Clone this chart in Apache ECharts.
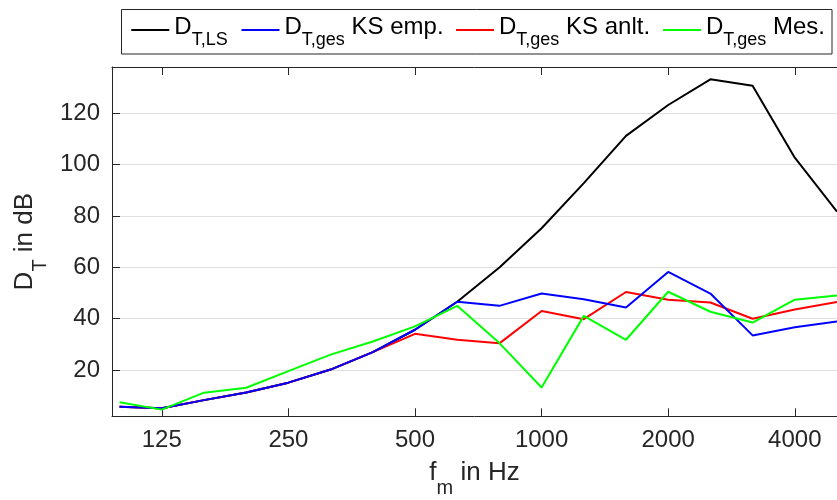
<!DOCTYPE html>
<html><head><meta charset="utf-8">
<script src="https://cdn.jsdelivr.net/npm/echarts@6/dist/echarts.min.js"></script>
<style>html,body{margin:0;padding:0;background:#fff}#c{width:837px;height:500px}</style>
</head><body><div id="c"></div>
<script>
// third-octave band centre frequencies (Hz)
const freqs = ['100','125','160','200','250','315','400','500','630','800','1000','1250','1600','2000','2500','3150','4000','5000'];
const xTickLabels = ['125','250','500','1000','2000','4000'];
const yTickLabels = [20, 40, 60, 80, 100, 120];

const dLS     = [5.7, 5.1, 8.3, 11.3, 15.1, 20.2, 27.0, 35.7, 46.6, 59.9, 75.2, 92.8, 111.2, 123.2, 133.2, 130.7, 102.7, 81.7];
const dKSemp  = [5.7, 5.1, 8.3, 11.3, 15.1, 20.2, 27.0, 35.7, 46.6, 45.0, 49.8, 47.6, 44.4, 58.2, 49.8, 33.5, 36.7, 38.9];
const dKSanlt = [5.7, 5.1, 8.3, 11.3, 15.1, 20.2, 27.0, 34.1, 31.8, 30.4, 43.0, 39.8, 50.4, 47.4, 46.3, 40.0, 43.6, 46.5];
const dMes    = [7.5, 4.6, 11.2, 13.1, 19.6, 26.0, 31.1, 37.0, 45.0, 30.5, 13.2, 41.1, 31.8, 50.5, 42.7, 38.5, 47.4, 49.0];

const seriesNames  = ['D_T,LS', 'D_T,ges KS emp.', 'D_T,ges KS anlt.', 'D_T,ges Mes.'];
const legendMain   = ['D', 'D', 'D', 'D'];
const legendSubs   = ['T,LS', 'T,ges', 'T,ges', 'T,ges'];
const legendSuffix = ['', ' KS emp.', ' KS anlt.', ' Mes.'];
const seriesColors = ['#000000', '#0000ff', '#ff0000', '#00ff00'];
const seriesData   = [dLS, dKSemp, dKSanlt, dMes];
const legendLeft   = [130.3, 240.5, 455, 662];

const FONT = 'Liberation Sans, Arial, Helvetica, sans-serif';
const TXT = '#262626';

const chart = echarts.init(document.getElementById('c'), null, {renderer: 'canvas'});
const xTickIdx = xTickLabels.map(l => freqs.indexOf(l));

function xAxisCfg(pos, showLabel) {
  return {
    type: 'value', position: pos, min: -0.18, max: freqs.length - 1,
    axisLine: {show: true, onZero: false, lineStyle: {color: TXT, width: 1}},
    axisTick: {show: true, inside: true, length: 8, customValues: xTickIdx, lineStyle: {color: TXT, width: 1}},
    axisLabel: {show: showLabel, customValues: xTickIdx, formatter: v => freqs[Math.round(v)],
      fontSize: 24, color: TXT, fontFamily: FONT, margin: 12},
    splitLine: {show: false}
  };
}
const xBottom = xAxisCfg('bottom', true);
xBottom.name = '{b|f}{s|m}{b| in Hz}';
xBottom.nameLocation = 'middle';
xBottom.nameGap = 50;
xBottom.nameMoveOverlap = false;
xBottom.nameTextStyle = {
  color: TXT, fontFamily: FONT,
  rich: {
    b: {fontSize: 26, lineHeight: 26, padding: [0, 0, 13, 0], color: TXT, fontFamily: FONT},
    s: {fontSize: 20, lineHeight: 20, padding: [19, 0, 0, 0], color: TXT, fontFamily: FONT}
  }
};
const xTop = xAxisCfg('top', false);

const legendRich = {
  b: {fontSize: 24, lineHeight: 24, padding: [5, 0, 10, 0], color: '#000', fontFamily: FONT},
  s: {fontSize: 18, lineHeight: 18, padding: [21, 0, 0, 0], color: '#000', fontFamily: FONT}
};

const legends = seriesNames.map((n, k) => ({
  left: legendLeft[k], top: 10.5, padding: 0, z: 10,
  data: [n], itemWidth: 38, itemHeight: 14, selectedMode: false,
  itemStyle: {opacity: 0},
  formatter: () => '{b|' + legendMain[k] + '}{s|' + legendSubs[k] + '}' + (legendSuffix[k] ? '{b|' + legendSuffix[k] + '}' : ''),
  textStyle: {color: '#000', fontFamily: FONT, rich: legendRich}
}));

// draw order: black, red, blue, green (blue lies over red, green on top)
const drawOrder = [0, 2, 1, 3];
const series = drawOrder.map(k => ({
  name: seriesNames[k], type: 'line', symbol: 'none', xAxisIndex: 0,
  data: seriesData[k].map((v, i) => [i, v]),
  lineStyle: {color: seriesColors[k], width: 2},
  itemStyle: {color: seriesColors[k]},
  emphasis: {disabled: true}
}));

chart.setOption({
  animation: false,
  backgroundColor: '#fff',
  grid: {left: 112, right: 0, top: 67, bottom: 83.7, containLabel: false, outerBoundsMode: 'none'},
  graphic: [{type: 'rect', z: 1, shape: {x: 121.5, y: 9.5, width: 710.5, height: 44.5},
    style: {fill: '#fff', stroke: TXT, lineWidth: 1}}],
  legend: legends,
  xAxis: [xBottom, xTop],
  yAxis: {
    type: 'value', min: 2, max: 138, splitNumber: 7,
    axisLine: {show: true, onZero: false, lineStyle: {color: TXT, width: 1}},
    axisTick: {show: true, inside: true, length: 8, customValues: yTickLabels, lineStyle: {color: TXT}},
    axisLabel: {customValues: yTickLabels, fontSize: 24, color: TXT, fontFamily: FONT, margin: 12},
    splitLine: {show: true, lineStyle: {color: '#dfdfdf', width: 1}},
    name: '{b|D}{s|T}{b| in dB}', nameLocation: 'middle', nameGap: 68, nameRotate: 90,
    nameMoveOverlap: false,
    nameTextStyle: {
      color: TXT, fontFamily: FONT,
      rich: {
        b: {fontSize: 26, lineHeight: 26, padding: [0, 0, 13, 0], color: TXT, fontFamily: FONT},
        s: {fontSize: 20, lineHeight: 20, padding: [19, 0, 0, 0], color: TXT, fontFamily: FONT}
      }
    }
  },
  series: series
});
</script></body></html>
